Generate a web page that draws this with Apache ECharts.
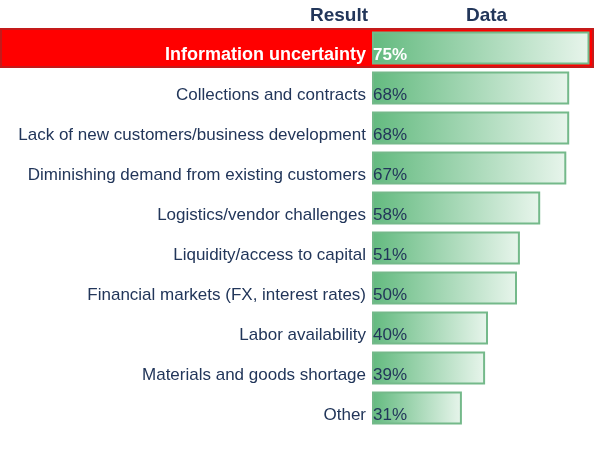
<!DOCTYPE html>
<html>
<head>
<meta charset="utf-8">
<script src="https://cdn.jsdelivr.net/npm/echarts@6/dist/echarts.min.js"></script>
<style>html,body{margin:0;padding:0;background:#fff}#c{width:614px;height:452px}</style>
</head>
<body>
<div id="c"></div>
<script>
const categories = [
  'Information uncertainty',
  'Collections and contracts',
  'Lack of new customers/business development',
  'Diminishing demand from existing customers',
  'Logistics/vendor challenges',
  'Liquidity/access to capital',
  'Financial markets (FX, interest rates)',
  'Labor availability',
  'Materials and goods shortage',
  'Other'
];
const values = [75, 68, 68, 67, 58, 51, 50, 40, 39, 31];
const highlighted = 'Information uncertainty';
const headers = ['Result', 'Data'];

const navy = '#22365a';
const highlightData = categories.map(c => c === highlighted ? 1 : null);

const chart = echarts.init(document.getElementById('c'), null, {renderer: 'canvas'});
chart.setOption({
  animation: false,
  backgroundColor: '#fff',
  title: [
    {text: headers[0], left: 305, top: 1, textStyle: {fontFamily: 'Liberation Sans', fontWeight: 'bold', fontSize: 19, color: navy}},
    {text: headers[1], left: 461, top: 1, textStyle: {fontFamily: 'Liberation Sans', fontWeight: 'bold', fontSize: 19, color: navy}}
  ],
  grid: [
    {left: 0, right: 20, top: 28, height: 400, z: 0},
    {left: 372, top: 28, height: 400, width: 232}
  ],
  xAxis: [
    {gridIndex: 0, type: 'value', min: 0, max: 1, show: false},
    {gridIndex: 1, type: 'value', min: 0, max: 80, show: false}
  ],
  yAxis: [
    {gridIndex: 0, type: 'category', data: categories, inverse: true, show: false},
    {gridIndex: 1, type: 'category', data: categories, inverse: true, z: 5,
     axisLine: {show: false}, axisTick: {show: false},
     axisLabel: {
       margin: 6, fontFamily: 'Liberation Sans', fontSize: 17, color: navy,
       padding: [15, 0, 0, 0],
       formatter: v => v === highlighted ? '{h|' + v + '}' : v,
       rich: {h: {color: '#fff', fontWeight: 'bold', fontSize: 18, fontFamily: 'Liberation Sans'}}
     }}
  ],
  series: [
    {
      type: 'bar', xAxisIndex: 0, yAxisIndex: 0, data: highlightData, z: 0,
      barWidth: '100%', silent: true,
      itemStyle: {color: '#ff0000', borderColor: '#c41a1a', borderWidth: 2}
    },
    {
      type: 'bar', xAxisIndex: 1, yAxisIndex: 1, barWidth: 33,
      data: values.map((v, i) => ({
        value: v,
        label: categories[i] === highlighted ? {color: '#fff', fontWeight: 'bold'} : {}
      })),
      itemStyle: {
        color: new echarts.graphic.LinearGradient(0, 0, 1, 0, [
          {offset: 0, color: '#63ba7f'},
          {offset: 1, color: '#e8f5ec'}
        ]),
        borderColor: '#74b98a', borderWidth: 2
      },
      label: {
        show: true, position: 'insideLeft', distance: 1, offset: [0, 7],
        formatter: '{c}%', fontFamily: 'Liberation Sans', fontSize: 17, color: navy
      }
    }
  ]
});
</script>
</body>
</html>
